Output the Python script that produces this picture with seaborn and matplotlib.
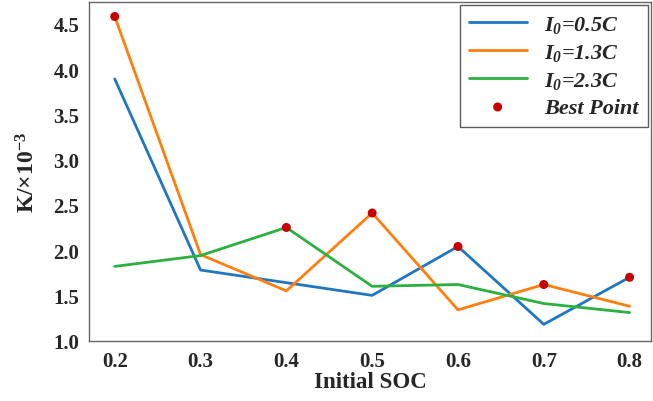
import matplotlib
matplotlib.use("Agg")
import matplotlib.pyplot as plt
import seaborn as sns
import pandas as pd

soc = [0.2, 0.3, 0.4, 0.5, 0.6, 0.7, 0.8]
k_05 = [3.89, 1.78, 1.64, 1.50, 2.04, 1.18, 1.70]
k_13 = [4.58, 1.95, 1.55, 2.41, 1.34, 1.62, 1.38]
k_23 = [1.82, 1.94, 2.25, 1.60, 1.62, 1.41, 1.31]
series_labels = [r"$I_\mathsf{0}$=0.5C", r"$I_\mathsf{0}$=1.3C", r"$I_\mathsf{0}$=2.3C"]
best_x = [0.2, 0.4, 0.5, 0.6, 0.7, 0.8]
best_y = [4.58, 2.25, 2.41, 2.04, 1.62, 1.70]
xticks = [0.2, 0.3, 0.4, 0.5, 0.6, 0.7, 0.8]
yticks = [1.0, 1.5, 2.0, 2.5, 3.0, 3.5, 4.0, 4.5]

sns.set_style("white")
plt.rcParams["font.family"] = ["Liberation Serif", "DejaVu Serif"]
plt.rcParams["mathtext.fontset"] = "custom"
plt.rcParams["mathtext.rm"] = "Liberation Serif:bold"
plt.rcParams["mathtext.it"] = "Liberation Serif:italic:bold"
plt.rcParams["mathtext.sf"] = "Liberation Serif:italic:bold"
plt.rcParams["mathtext.bf"] = "Liberation Serif:bold"

df = pd.DataFrame({
    "soc": soc * 3,
    "k": k_05 + k_13 + k_23,
    "series": [series_labels[0]] * 7 + [series_labels[1]] * 7 + [series_labels[2]] * 7,
})
best = pd.DataFrame({"soc": best_x, "k": best_y})

fig = plt.figure(figsize=(6.53, 4.02), dpi=100)
ax = fig.add_axes([0.1363, 0.149, 0.8607, 0.8435])

palette = {series_labels[0]: "#1f77c4", series_labels[1]: "#ff7f0e", series_labels[2]: "#2cb040"}
sns.lineplot(data=df, x="soc", y="k", hue="series", palette=palette, linewidth=2.0, ax=ax)
sns.scatterplot(data=best, x="soc", y="k", color="#c80000", s=42, edgecolor="none",
                label="Best Point", zorder=5, ax=ax)

ax.set_xlim(0.17, 0.825)
ax.set_ylim(0.995, 4.74)
ax.set_xticks(xticks)
ax.set_xticklabels([f"{v:.1f}" for v in xticks], fontsize=15, fontweight="bold")
ax.set_yticks(yticks)
ax.set_yticklabels([f"{v:.1f}" for v in yticks], fontsize=15, fontweight="bold")
ax.tick_params(direction="out", length=3, width=1, color="#666666", pad=4)
for s in ax.spines.values():
    s.set_color("#666666")
    s.set_linewidth(1.0)
ax.set_xlabel("Initial SOC", fontsize=16.5, fontweight="bold", labelpad=0)
ax.set_ylabel(r"K/×10$^{-3}$", fontsize=17, fontweight="bold", labelpad=10)

leg = ax.legend(loc="upper right", frameon=True, fancybox=False, edgecolor="#333333",
                prop={"size": 16, "weight": "bold", "style": "italic"},
                handlelength=2.6, labelspacing=0.3, borderpad=0.4, handletextpad=0.8,
                borderaxespad=0.15)
leg.get_frame().set_linewidth(1.0)

fig.savefig("out.png", dpi=100)
